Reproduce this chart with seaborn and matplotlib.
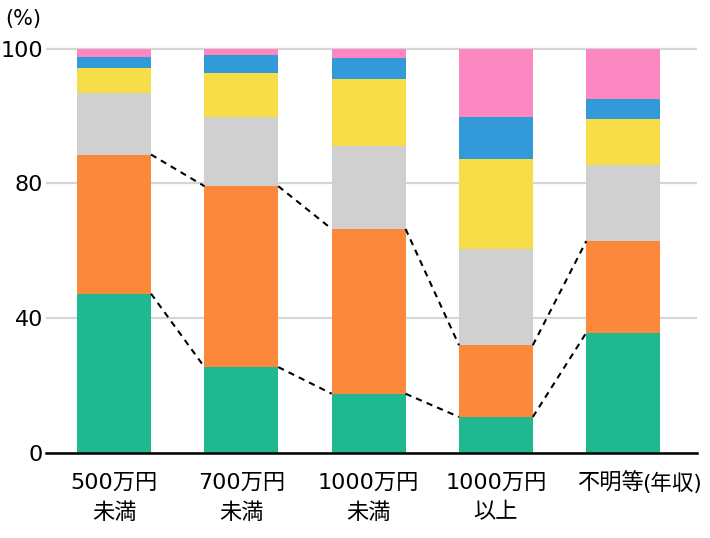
import numpy as np
import pandas as pd
import matplotlib
matplotlib.use("Agg")
import matplotlib.pyplot as plt
import seaborn as sns

# ---- data (percent shares per income group) ----
categories = ["500万円\n未満", "700万円\n未満", "1000万円\n未満", "1000万円\n以上", "不明等"]
green = [47.3, 25.5, 17.6, 10.7, 35.7]
orange = [37.0, 53.7, 48.9, 21.3, 27.2]
gray = [9.1, 10.7, 19.0, 28.5, 19.8]
yellow = [3.8, 6.5, 10.0, 23.1, 6.8]
blue = [1.5, 2.6, 3.1, 6.2, 3.0]
pink = [1.3, 1.0, 1.4, 10.2, 7.5]
y_ticks = [0, 40, 80, 100]
y_tick_labels = ["0", "40", "80", "100"]
unit_label = "(%)"
note_label = "(年収)"

colors = ["#1fb891", "#fb883b", "#d0d0d0", "#f7de48", "#339ad9", "#fd87c0"]

sns.set_theme(style="white")
plt.rcParams["font.family"] = ["DejaVu Sans", "Noto Sans CJK JP"]

fig = plt.figure(figsize=(7.1, 5.38), dpi=100)
ax = fig.add_axes([46 / 710, 85 / 538, (697 - 46) / 710, (453 - 42) / 538])

# piecewise axis: 0-40, 40-80, 80-100 take equal heights
knots_v = [-400, 0, 40, 80, 100, 300]
knots_t = [-10, 0, 1, 2, 3, 13]


def fwd(y):
    return np.interp(y, knots_v, knots_t)


def inv(t):
    return np.interp(t, knots_t, knots_v)


ax.set_yscale("function", functions=(fwd, inv))

layers = [green, orange, gray, yellow, blue, pink]
cum = np.cumsum(np.array(layers), axis=0)
bar_w = 0.58
for i in reversed(range(len(layers))):
    df = pd.DataFrame({"cat": categories, "val": cum[i]})
    sns.barplot(data=df, x="cat", y="val", color=colors[i], width=bar_w,
                saturation=1, errorbar=None, linewidth=0, ax=ax, zorder=2)

# dashed connectors for green and orange tops
for layer in [0, 1]:
    for i in range(len(categories) - 1):
        ax.plot([i + bar_w / 2, i + 1 - bar_w / 2], [cum[layer][i], cum[layer][i + 1]],
                ls=(0, (3, 2.5)), color="black", lw=1.5, zorder=3)

ax.set_xlim(-0.535, 4.58)
ax.set_ylim(0, 101)
ax.set_yticks(y_ticks)
ax.set_yticklabels(y_tick_labels)
ax.set_xlabel("")
ax.set_ylabel("")
ax.yaxis.grid(True, color="#d6d6d6", lw=1.6)
ax.set_axisbelow(True)
for s in ["left", "right", "top"]:
    ax.spines[s].set_visible(False)
ax.spines["bottom"].set_color("black")
ax.spines["bottom"].set_linewidth(1.8)
ax.spines["bottom"].set_zorder(4)
ax.tick_params(axis="y", length=0, pad=2, labelsize=16, colors="black")
ax.tick_params(axis="x", length=0, pad=14, labelsize=16, colors="black")

ax.set_xticks(range(len(categories)))
ax.set_xticklabels(categories[:4] + [""])
for lbl in ax.get_xticklabels():
    lbl.set_linespacing(1.6)
ax.annotate(categories[4], xy=(4, 0), xycoords=("data", "axes fraction"),
            xytext=(-9, -22), textcoords="offset points", ha="center", va="center",
            fontsize=16, color="black")
ax.annotate(note_label, xy=(4, 0), xycoords=("data", "axes fraction"),
            xytext=(13.5, -22), textcoords="offset points", ha="left", va="center",
            fontsize=15.5, color="black")

fig.text(5 / 710, 1 - 19 / 538, unit_label, ha="left", va="center", fontsize=15, color="black")

fig.savefig("out.png", dpi=100)
